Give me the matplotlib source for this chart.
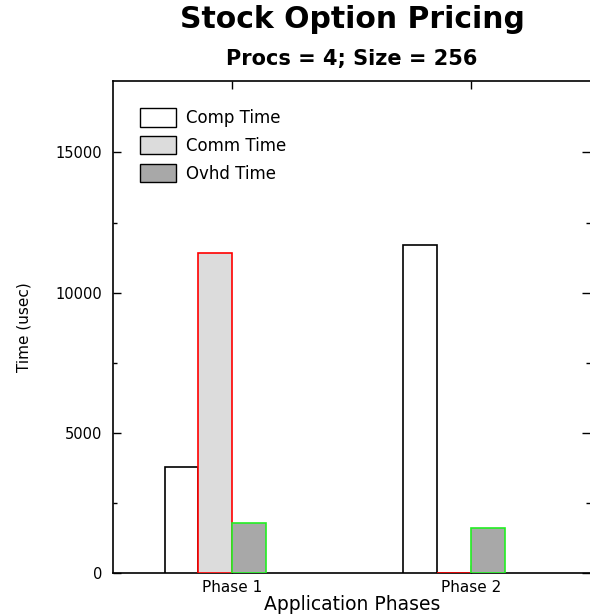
import numpy as np
import matplotlib
matplotlib.use("Agg")
import matplotlib.pyplot as plt
from matplotlib.patches import Patch

# Values (usec)
phases = ["Phase 1", "Phase 2"]
comp_time = [3780, 11700]
comm_time = [11400, 15]
ovhd_time = [1770, 1620]

series_names = ["Comp Time", "Comm Time", "Ovhd Time"]
fill_colors = ["white", "#dcdcdc", "#a8a8a8"]
edge_colors = ["black", "red", "#22ee22"]

plt.rcParams["font.family"] = "DejaVu Sans"

W, H = 590, 614
fig = plt.figure(figsize=(W / 100, H / 100), dpi=100)
ax = fig.add_axes([113 / W, 1 - 573 / H, (W - 113) / W, (573 - 81) / H])

x = np.arange(1, len(phases) + 1)
width = 0.142
offsets = [-1.5 * width, -0.5 * width, 0.5 * width]
for vals, off, fc, ec in zip([comp_time, comm_time, ovhd_time], offsets, fill_colors, edge_colors):
    ax.bar(x + off, vals, width=width, color=fc, edgecolor=ec, linewidth=1.2, zorder=3)

ax.set_xlim(0.5, 2.5)
ax.set_ylim(0, 17550)
ax.set_xticks(x)
ax.set_xticklabels(phases, fontsize=11)
ax.set_yticks([0, 5000, 10000, 15000])
ax.set_yticks([2500, 7500, 12500], minor=True)
ax.tick_params(axis="y", labelsize=10.5, pad=8)
ax.tick_params(which="both", direction="in", top=True, right=True, width=1)
ax.tick_params(which="major", length=5.5)
ax.tick_params(which="minor", length=3)
ax.tick_params(axis="x", pad=5)
ax.spines["right"].set_visible(False)
for s in ["left", "bottom", "top"]:
    ax.spines[s].set_linewidth(1.2)

# legend: black-edged boxes, no frame
handles = [Patch(facecolor=fc, edgecolor="black", linewidth=1.0) for fc in fill_colors]
ax.legend(handles, series_names, loc="upper left", bbox_to_anchor=(132 / W, 1 - 100 / H),
          bbox_transform=fig.transFigure, frameon=False, fontsize=12, borderpad=0,
          handlelength=2.15, handleheight=1.3, labelspacing=0.55, handletextpad=0.6)

fig.text(352 / W, 1 - 28 / H, "Stock Option Pricing", ha="center", va="baseline",
         fontsize=21.5, fontweight="bold")
fig.text(352 / W, 1 - 65 / H, "Procs = 4; Size = 256", ha="center", va="baseline",
         fontsize=15, fontweight="bold")
fig.text(352 / W, 1 - 610 / H, "Application Phases", ha="center", va="baseline", fontsize=13.5)
fig.text(24 / W, 1 - 327 / H, "Time (usec)", rotation=90, ha="center", va="center", fontsize=11)

fig.savefig("out.png", dpi=100)
